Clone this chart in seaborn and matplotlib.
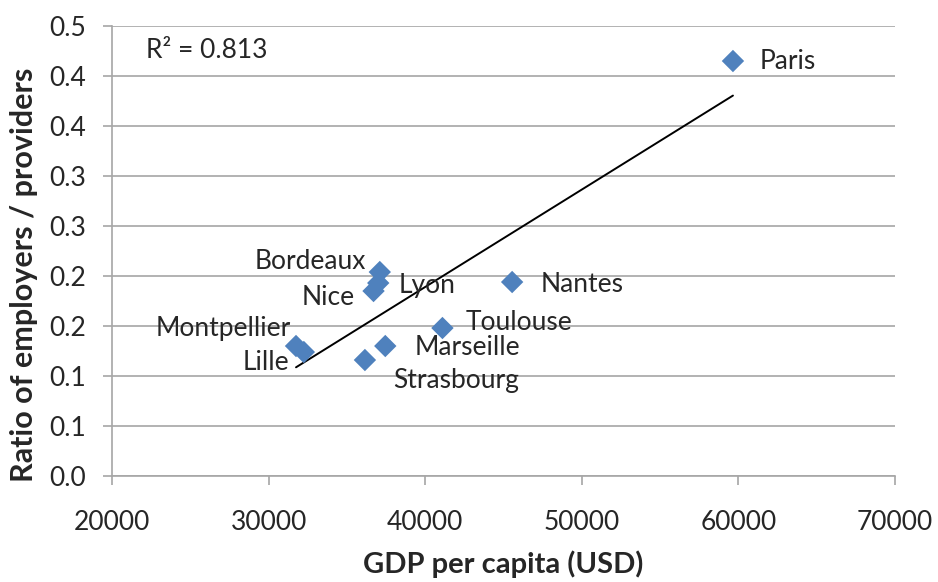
import numpy as np
import pandas as pd
import seaborn as sns
import matplotlib.pyplot as plt

cities = ["Paris", "Nantes", "Bordeaux", "Lyon", "Nice", "Toulouse",
          "Marseille", "Strasbourg", "Montpellier", "Lille"]
gdp = [59650, 45550, 37100, 37000, 36700, 41100, 37450, 36150, 31750, 32250]
ratio = [0.415, 0.194, 0.204, 0.193, 0.185, 0.148, 0.130, 0.116, 0.130, 0.124]
y_ticks = [0.0, 0.05, 0.1, 0.15, 0.2, 0.25, 0.3, 0.35, 0.4, 0.45]
y_tick_labels = ["0.0", "0.1", "0.1", "0.2", "0.2", "0.3", "0.3", "0.4", "0.4", "0.5"]
x_ticks = [20000, 30000, 40000, 50000, 60000, 70000]
r2_text = "R² = 0.813"

# label offsets in pixels (dx, dy, ha)
label_pos = {
    "Paris": (27, 0, "left"), "Nantes": (28, -2, "left"), "Bordeaux": (-14, 11, "right"),
    "Lyon": (20, -2, "left"), "Nice": (-19, -6, "right"), "Toulouse": (23, 6, "left"),
    "Marseille": (29, -1, "left"), "Strasbourg": (28, -20, "left"),
    "Montpellier": (-5, 18, "right"), "Lille": (-15, -10, "right"),
}

df = pd.DataFrame({"city": cities, "gdp": gdp, "ratio": ratio})

sns.set_style("white")
plt.rcParams["font.family"] = ["Lato", "DejaVu Sans"]
fs = 19

fig = plt.figure(figsize=(9.38, 5.82), dpi=100)
ax = fig.add_axes([0.1194, 0.1821, 0.8348, 0.7732])

ax.set_xlim(20000, 70000)
ax.set_ylim(0, 0.45)
ax.set_yticks(y_ticks)
ax.set_yticklabels(y_tick_labels)
ax.set_xticks(x_ticks)
ax.yaxis.grid(True, color="#a6a6a6", linewidth=1.2)
ax.set_axisbelow(True)

# trend line
k, b = np.polyfit(df["gdp"], df["ratio"], 1)
xs = np.array([df["gdp"].min(), df["gdp"].max()])
ax.plot(xs, k * xs + b, color="black", linewidth=1.4, zorder=2)

sns.scatterplot(data=df, x="gdp", y="ratio", ax=ax, marker="D", s=130,
                color="#4f81bd", edgecolor="none", zorder=3)

for c, x, y in zip(cities, gdp, ratio):
    dx, dy, ha = label_pos[c]
    ax.annotate(c, (x, y), xytext=(dx, dy), textcoords="offset pixels",
                ha=ha, va="center", fontsize=fs)

ax.text(0.043, 0.945, r2_text, transform=ax.transAxes, fontsize=fs, va="center")

for s in ["top", "right"]:
    ax.spines[s].set_visible(False)
for s in ["left", "bottom"]:
    ax.spines[s].set_color("#a6a6a6")
    ax.spines[s].set_linewidth(1.2)
ax.tick_params(axis="both", labelsize=fs, length=6.5, color="#a6a6a6", width=1.2,
               direction="out", left=True, bottom=True)
ax.tick_params(axis="x", pad=18)
ax.tick_params(axis="y", pad=12)

ax.set_xlabel("GDP per capita (USD)", fontsize=21, fontweight="bold")
ax.set_ylabel("Ratio of employers / providers", fontsize=22, fontweight="bold")
ax.xaxis.set_label_coords(0.5, -0.166)
ax.yaxis.set_label_coords(-0.095, 0.447)

fig.savefig("out.png", dpi=100)
